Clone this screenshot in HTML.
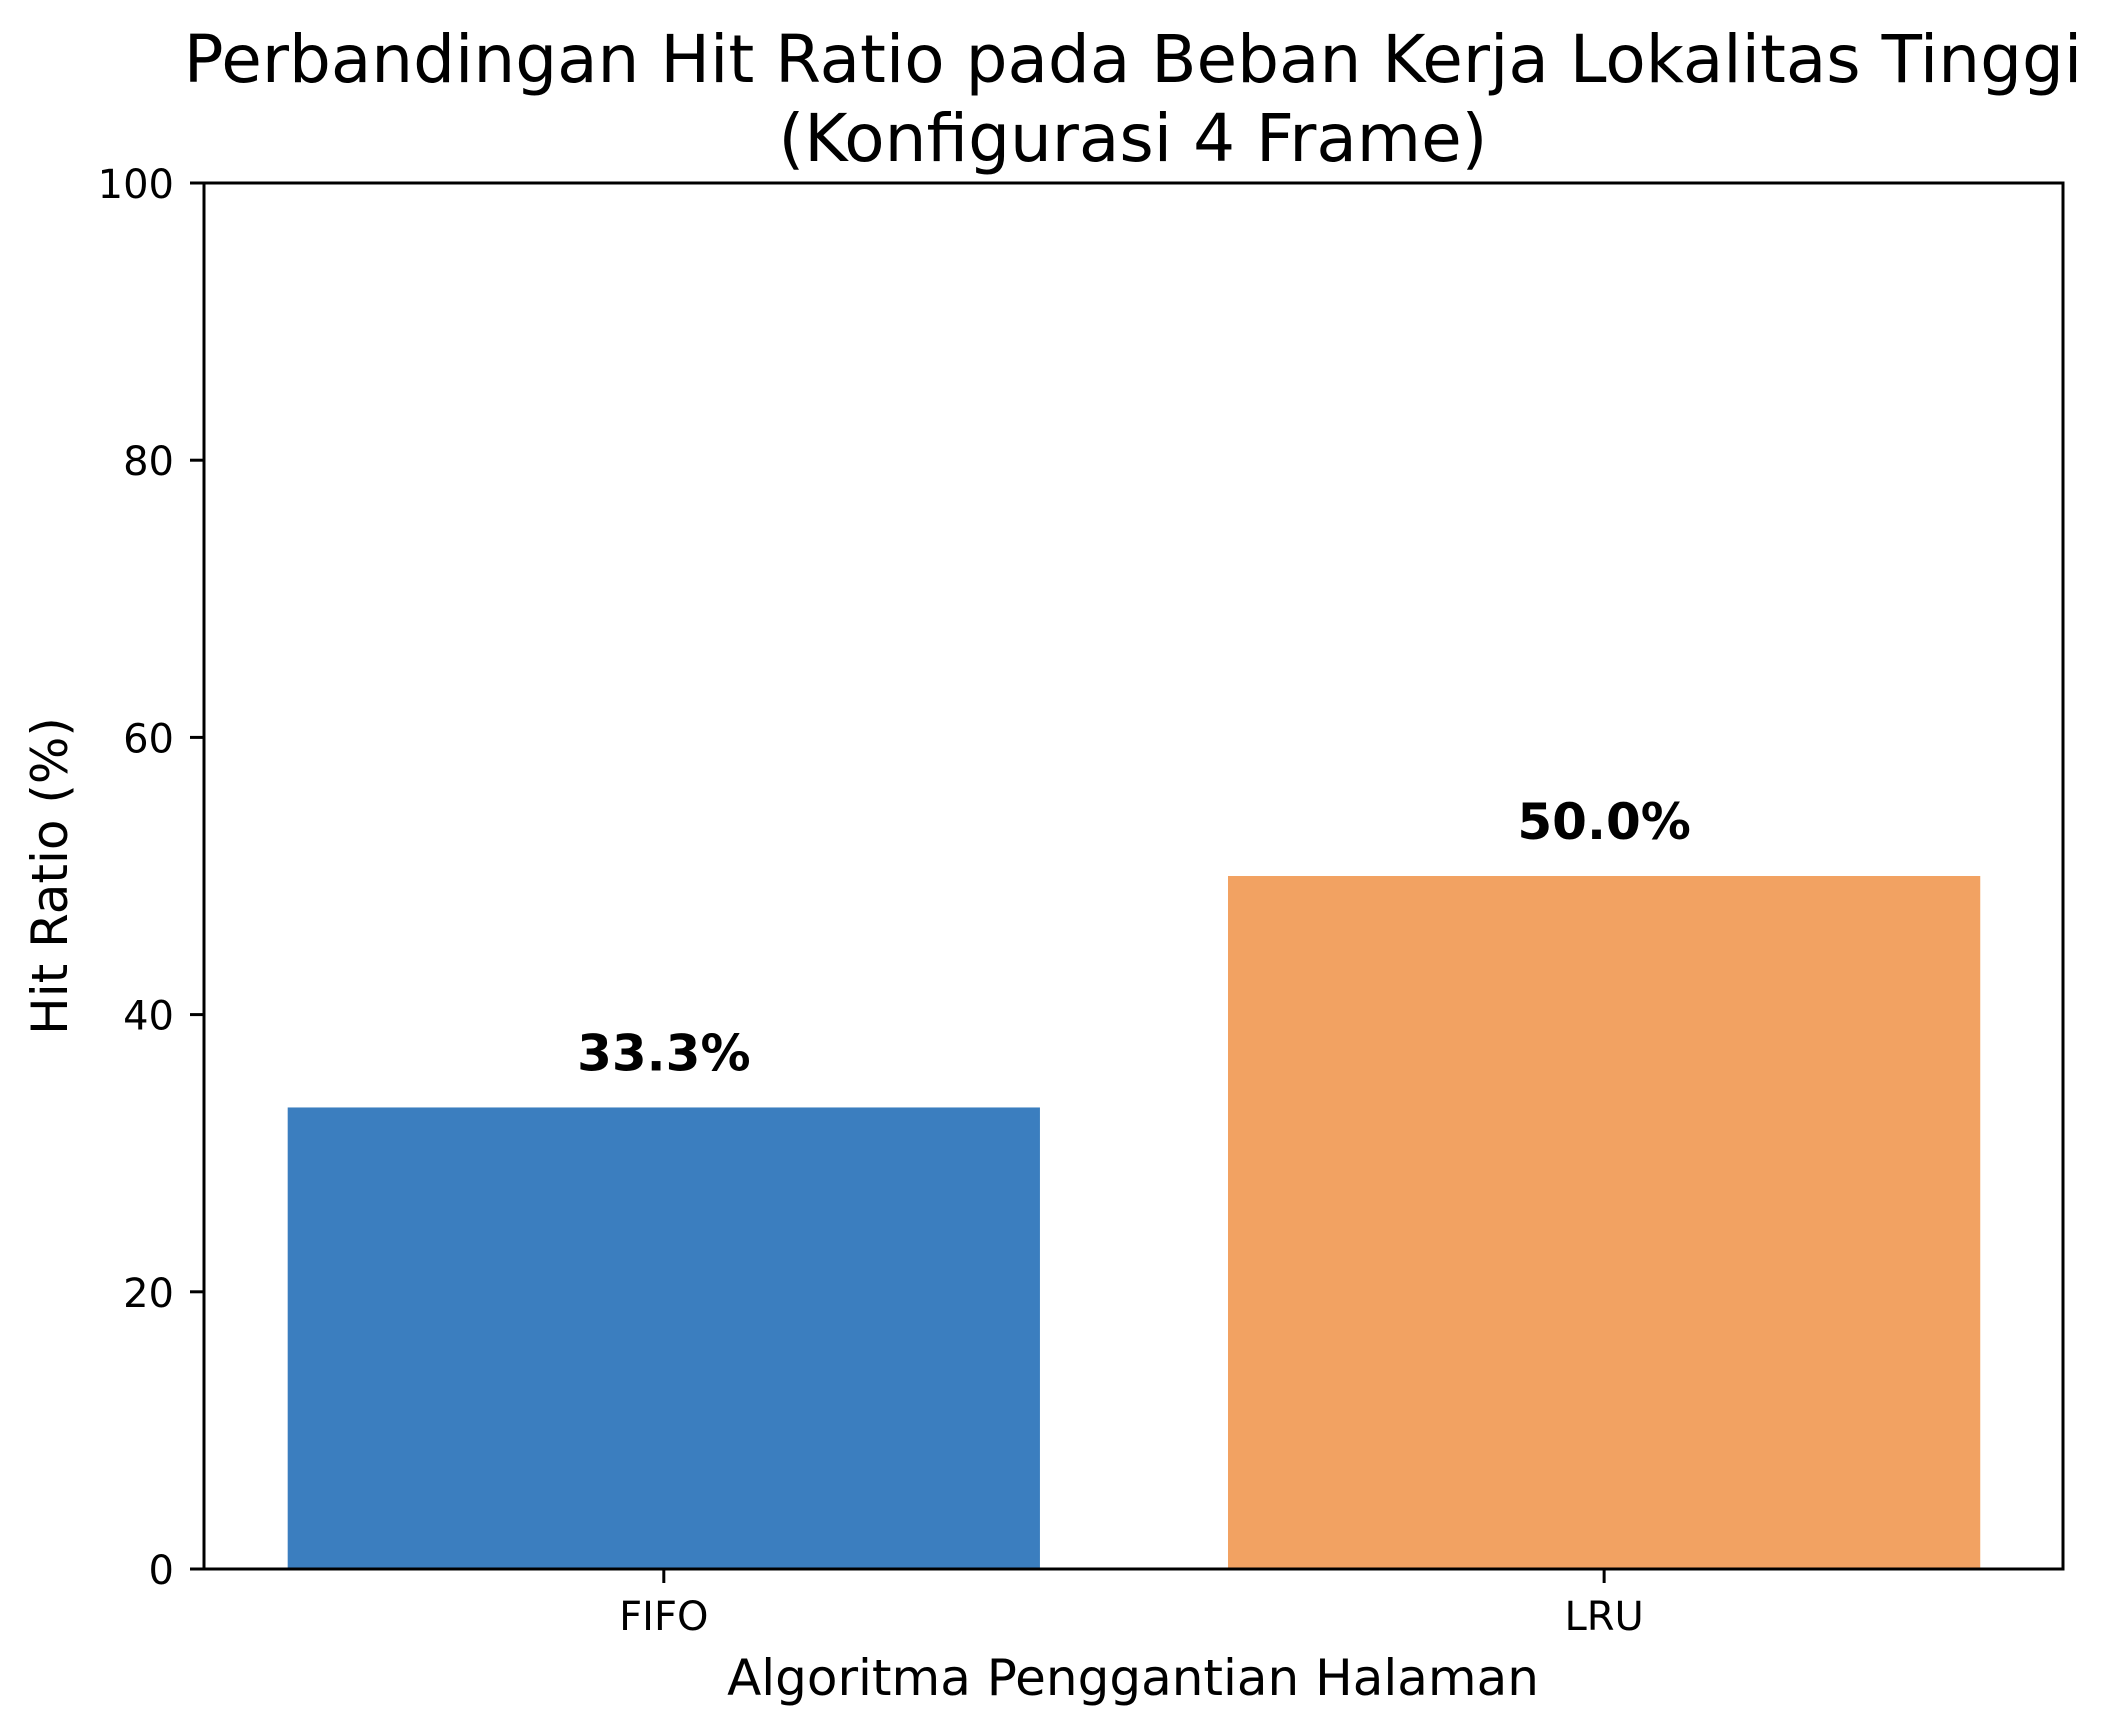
<!DOCTYPE html>
<html><head><meta charset="utf-8"><style>
html,body{margin:0;padding:0;background:#fff;}
svg{display:block;font-family:"DejaVu Sans","Liberation Sans",sans-serif;}
</style></head><body>
<svg id="chart" width="2120" height="1735" viewBox="0 0 2120 1735" xmlns="http://www.w3.org/2000/svg">
<rect x="0" y="0" width="2120" height="1735" fill="#fff"/>
<text x="1133" y="82" font-size="66" text-anchor="middle" fill="#000">Perbandingan Hit Ratio pada Beban Kerja Lokalitas Tinggi</text>
<text x="1133" y="161" font-size="66" text-anchor="middle" fill="#000">(Konfigurasi 4 Frame)</text>
<g id="bars"></g>
<g id="yticks"></g>
<g id="xticks"></g>
<rect x="204" y="183" width="1859" height="1386" fill="none" stroke="#000" stroke-width="3"/>
<text x="1133" y="1695" font-size="50" text-anchor="middle" fill="#000">Algoritma Penggantian Halaman</text>
<text transform="translate(67,876) rotate(-90)" x="0" y="0" font-size="50" text-anchor="middle" fill="#000">Hit Ratio (%)</text>
</svg>
<script>
const categories = ["FIFO", "LRU"];
const hitRatio = [33.3, 50.0];
const valueLabels = ["33.3%", "50.0%"];
const yTicks = [0, 20, 40, 60, 80, 100];
const barColors = ["#3b7ebf", "#f2a262"];

const NS = "http://www.w3.org/2000/svg";
const L = 204, R = 2063, T = 183, B = 1569;
const xMin = -0.489, xMax = 1.488, yMin = 0, yMax = 100;
function xs(v){ return L + (v - xMin) / (xMax - xMin) * (R - L); }
function ys(v){ return B - (v - yMin) / (yMax - yMin) * (B - T); }
function mk(tag, attrs){ const e = document.createElementNS(NS, tag); for (const k in attrs) e.setAttribute(k, attrs[k]); return e; }

const bars = document.getElementById('bars');
categories.forEach((c, i) => {
  const x0 = xs(i - 0.4), x1 = xs(i + 0.4), y = ys(hitRatio[i]);
  const r = mk('rect', {x: x0, y: y, width: x1 - x0, height: B - y, fill: barColors[i % barColors.length]});
  
  
  bars.appendChild(r);
  const t = mk('text', {x: xs(i), y: y - 37, 'font-size': 50, 'font-weight': 'bold', 'text-anchor': 'middle', fill: '#000'});
  t.textContent = valueLabels[i];
  
  
  bars.appendChild(t);
});

const yt = document.getElementById('yticks');
yTicks.forEach(v => {
  const y = ys(v);
  const ln = mk('line', {x1: L - 14, x2: L, y1: y, y2: y, stroke: '#000', 'stroke-width': 3});
  
  
  yt.appendChild(ln);
  const t = mk('text', {x: L - 30, y: y + 15, 'font-size': 40, 'text-anchor': 'end', fill: '#000'});
  t.textContent = v;
  
  
  yt.appendChild(t);
});

const xt = document.getElementById('xticks');
categories.forEach((c, i) => {
  const x = xs(i);
  const ln = mk('line', {x1: x, x2: x, y1: B, y2: B + 14, stroke: '#000', 'stroke-width': 3});
  
  
  xt.appendChild(ln);
  const t = mk('text', {x: x, y: 1630, 'font-size': 40, 'text-anchor': 'middle', fill: '#000'});
  t.textContent = c;
  
  
  xt.appendChild(t);
});
</script>
</body></html>
